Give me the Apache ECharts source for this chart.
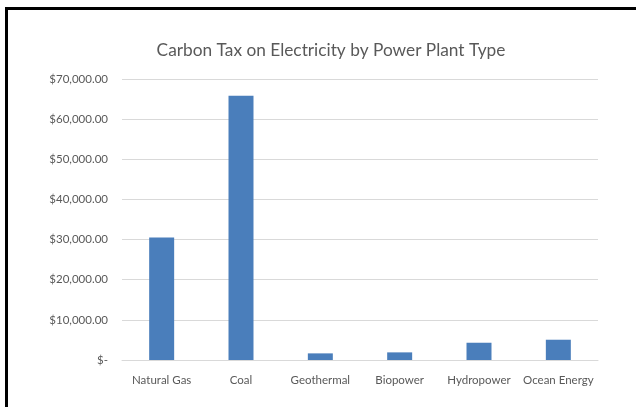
<!DOCTYPE html>
<html>
<head>
<meta charset="utf-8">
<script src="https://cdn.jsdelivr.net/npm/echarts@6/dist/echarts.min.js"></script>
<style>
  html, body { margin: 0; padding: 0; background: #fff; }
  #chart { width: 636px; height: 407px; }
</style>
</head>
<body>
<div id="chart"></div>
<script>
// Plant types and carbon tax amounts (USD)
const plantTypes = ['Natural Gas', 'Coal', 'Geothermal', 'Biopower', 'Hydropower', 'Ocean Energy'];
const carbonTax = [30500, 65800, 1650, 1900, 4300, 5050];
const yTicks = [0, 10000, 20000, 30000, 40000, 50000, 60000, 70000];

const fontFamily = 'Lato, "Open Sans", sans-serif';
const textGray = '#595959';

function money(v) {
  if (v === 0) return '$-';
  return '$' + v.toLocaleString('en-US', { minimumFractionDigits: 2, maximumFractionDigits: 2 });
}

const chart = echarts.init(document.getElementById('chart'), null, { renderer: 'canvas' });
chart.setOption({
  backgroundColor: '#ffffff',
  animation: false,
  title: {
    text: 'Carbon Tax on Electricity by Power Plant Type',
    left: 326,
    textAlign: 'center',
    top: 37,
    textStyle: { fontFamily, fontSize: 17.3, fontWeight: 'normal', color: textGray }
  },
  grid: { left: 122, right: 38, top: 79, bottom: 47 },
  xAxis: {
    type: 'category',
    data: plantTypes,
    axisTick: { show: false },
    axisLine: { lineStyle: { color: '#d9d9d9' } },
    axisLabel: { fontFamily, fontSize: 11.5, color: textGray, margin: 14, interval: 0 }
  },
  yAxis: {
    type: 'value',
    min: yTicks[0],
    max: yTicks[yTicks.length - 1],
    interval: yTicks[1] - yTicks[0],
    axisLine: { show: false },
    axisTick: { show: false },
    splitLine: { lineStyle: { color: '#d9d9d9' } },
    axisLabel: { fontFamily, fontSize: 11.5, color: textGray, margin: 14, formatter: money }
  },
  series: [{
    type: 'bar',
    data: carbonTax,
    barWidth: '31.5%',
    itemStyle: { color: '#4a7ebb' }
  }],
  graphic: [
    { type: 'rect', shape: { x: 5, y: 7, width: 640, height: 3 }, style: { fill: '#000' } },
    { type: 'rect', shape: { x: 5, y: 7, width: 3, height: 410 }, style: { fill: '#000' } }
  ]
});
</script>
</body>
</html>
